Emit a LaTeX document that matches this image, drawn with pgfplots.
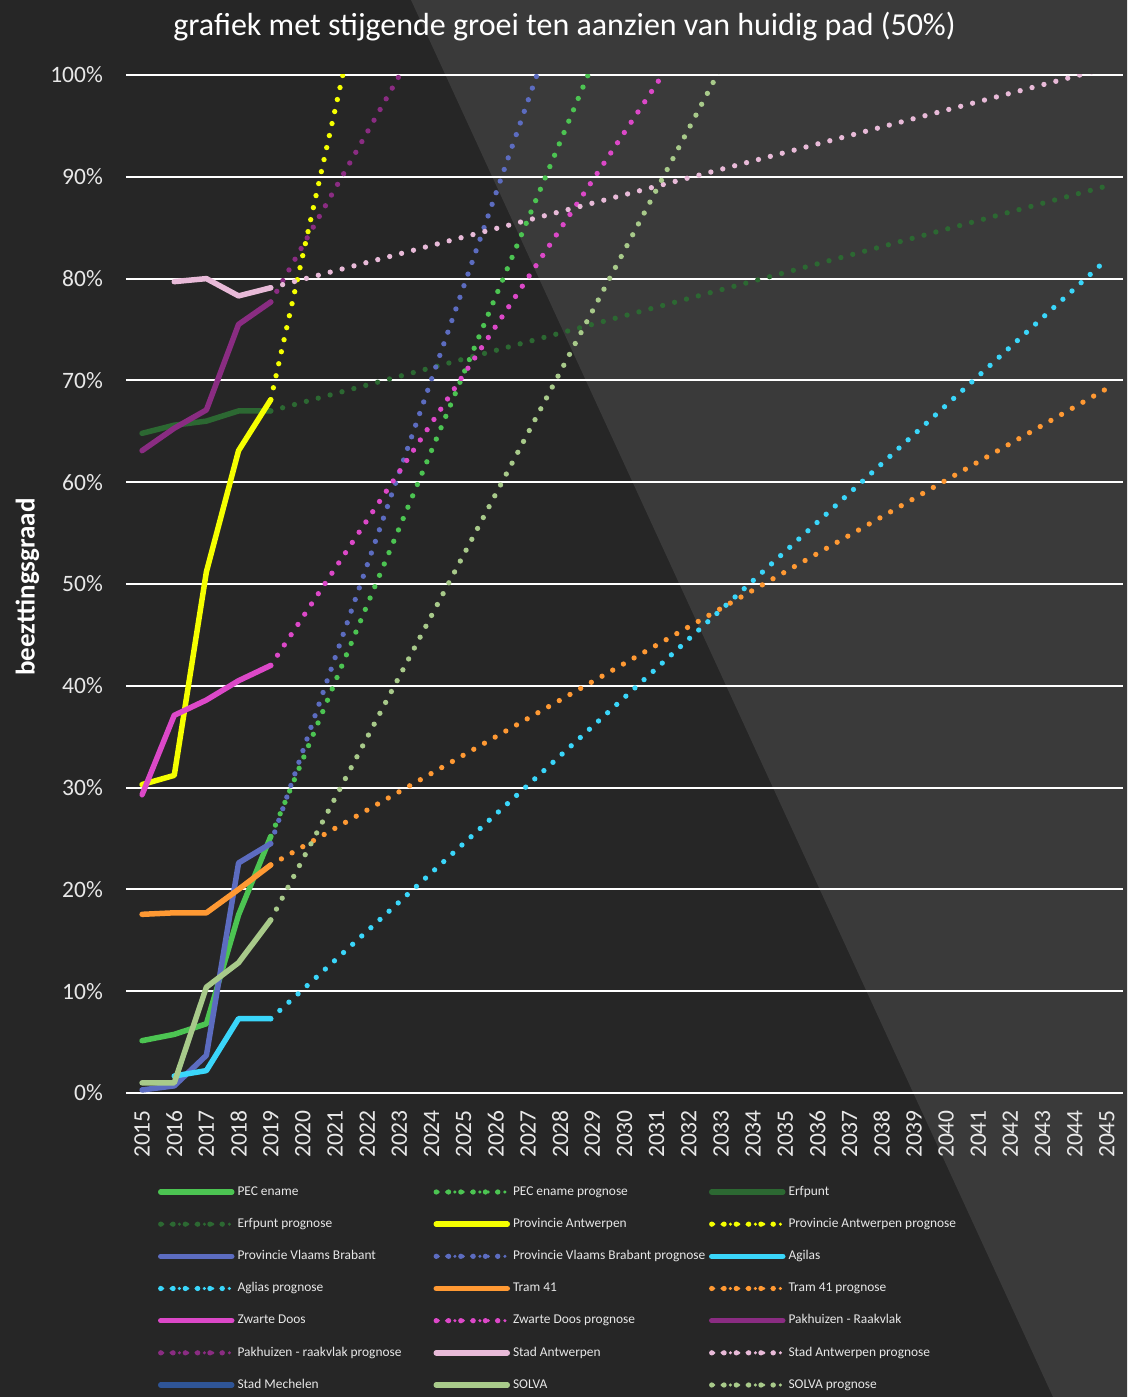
\documentclass[border=0pt]{standalone}
\usepackage{fontspec}
\setmainfont{Carlito}
\usepackage{pgfplots}
\pgfplotsset{compat=1.18}
\definecolor{bgA}{RGB}{38,38,38}
\definecolor{bgB}{RGB}{58,58,58}
\definecolor{lbl}{RGB}{232,232,232}
\definecolor{cPEC}{RGB}{76,196,82}
\definecolor{cErf}{RGB}{44,104,50}
\definecolor{cPA}{RGB}{245,255,0}
\definecolor{cPVB}{RGB}{92,108,192}
\definecolor{cAg}{RGB}{58,214,250}
\definecolor{cTram}{RGB}{255,153,51}
\definecolor{cZD}{RGB}{220,72,200}
\definecolor{cPak}{RGB}{138,44,130}
\definecolor{cSA}{RGB}{232,186,216}
\definecolor{cSM}{RGB}{47,85,151}
\definecolor{cSOL}{RGB}{168,202,138}
\pgfplotsset{
  act/.style={line width=5.5pt, line cap=round, line join=round,
    legend image code/.code={\path (0pt,0pt) -- (71pt,0pt);
      \draw[##1, line width=4pt, line cap=round, solid] (2pt,0pt) -- (63pt,0pt);}},
  prog/.style={line width=5.3pt, line cap=round, dash pattern=on 0pt off 12.3pt,
    legend image code/.code={\path (0pt,0pt) -- (71pt,0pt);
      \draw[##1, line width=3.4pt, line cap=round, dash pattern=on 0pt off 8.33pt] (2pt,0pt) -- (68.7pt,0pt);}},
}
\newcommand{\legtxt}[1]{\makebox[199pt][l]{\hspace*{3pt}#1}}
\begin{document}
\begin{tikzpicture}[x=1pt,y=1pt]
\useasboundingbox (0,0) rectangle (1127,1397);
\fill[bgA] (0,0) rectangle (1127,1397);
\fill[bgB] (411,1397) -- (1127,1397) -- (1127,0) -- (1053,0) -- cycle;
\begin{axis}[
  at={(126pt,304pt)}, anchor=south west,
  width=997pt, height=1018pt, scale only axis,
  xmin=2014.5, xmax=2045.5, ymin=0, ymax=100,
  axis line style={draw=none},
  major tick length=0pt,
  ytick={0,10,20,30,40,50,60,70,80,90,100},
  yticklabels={0\%,10\%,20\%,30\%,40\%,50\%,60\%,70\%,80\%,90\%,100\%},
  xtick={2015,2016,2017,2018,2019,2020,2021,2022,2023,2024,2025,2026,2027,2028,2029,2030,2031,2032,2033,2034,2035,2036,2037,2038,2039,2040,2041,2042,2043,2044,2045},
  xticklabels={2015,2016,2017,2018,2019,2020,2021,2022,2023,2024,2025,2026,2027,2028,2029,2030,2031,2032,2033,2034,2035,2036,2037,2038,2039,2040,2041,2042,2043,2044,2045},
  ymajorgrids, major grid style={white, line width=2pt},
  tick label style={text=lbl, font=\fontsize{23.5}{23.5}\selectfont},
  yticklabel style={anchor=east, inner sep=0pt},
  xticklabel style={rotate=90, anchor=east, inner sep=0pt},
  yticklabel shift=23pt,
  xticklabel shift=17pt,
  ylabel={\bfseries beezttingsgraad},
  ylabel style={at={(axis description cs:-0.0988,0.497)}, anchor=center, text=white, font=\fontsize{27}{27}\selectfont},
  title={grafiek met stijgende groei ten aanzien van huidig pad (50\%)},
  title style={at={(axis description cs:0.4398,1.0325)}, anchor=base, text=white, font=\fontsize{32}{32}\selectfont},
  legend columns=3,
  legend style={at={(axis description cs:0.0321,-0.0911)}, anchor=north west,
    draw=none, fill=none, inner sep=0pt, outer sep=0pt, column sep=0pt, row sep=19.67pt,
    font=\fontsize{13.4}{13.4}\selectfont,
    nodes={inner sep=0pt, text=lbl, text height=9.5pt, text depth=3pt},
    cells={anchor=west}},
]
% PEC ename
\addplot[act, cPEC] coordinates {(2015,5.14) (2016,5.76) (2017,6.8) (2018,17.5) (2019,25.2)};
\addlegendentry{\legtxt{PEC ename}}
\addplot[prog, cPEC] coordinates {(2019,25.2) (2030,108.6)};
\addlegendentry{\legtxt{PEC ename prognose}}
% Erfpunt
\addplot[act, cErf] coordinates {(2015,64.8) (2016,65.6) (2017,66.0) (2018,67.0) (2019,67.0)};
\addlegendentry{\legtxt{Erfpunt}}
\addplot[prog, cErf] coordinates {(2019,67.0) (2045,89.1)};
\addlegendentry{\legtxt{Erfpunt prognose}}
% Provincie Antwerpen
\addplot[act, cPA] coordinates {(2015,30.3) (2016,31.2) (2017,51.2) (2018,63.1) (2019,68.1)};
\addlegendentry{\legtxt{Provincie Antwerpen}}
\addplot[prog, cPA] coordinates {(2019,68.1) (2022,110.8)};
\addlegendentry{\legtxt{Provincie Antwerpen prognose}}
% Provincie Vlaams Brabant
\addplot[act, cPVB] coordinates {(2015,0.3) (2016,0.7) (2017,3.7) (2018,22.6) (2019,24.5)};
\addlegendentry{\legtxt{Provincie Vlaams Brabant}}
\addplot[prog, cPVB] coordinates {(2019,24.5) (2028,106.6)};
\addlegendentry{\legtxt{Provincie Vlaams Brabant prognose}}
% Agilas
\addplot[act, cAg] coordinates {(2016,1.67) (2017,2.2) (2018,7.3) (2019,7.3)};
\addlegendentry{\legtxt{Agilas}}
\addplot[prog, cAg] coordinates {(2019,7.3) (2045,81.9)};
\addlegendentry{\legtxt{Aglias prognose}}
% Tram 41
\addplot[act, cTram] coordinates {(2015,17.55) (2016,17.7) (2017,17.7) (2018,20.0) (2019,22.4)};
\addlegendentry{\legtxt{Tram 41}}
\addplot[prog, cTram] coordinates {(2019,22.4) (2045,69.2)};
\addlegendentry{\legtxt{Tram 41 prognose}}
% Zwarte Doos
\addplot[act, cZD] coordinates {(2015,29.3) (2016,37.1) (2017,38.6) (2018,40.5) (2019,42.0)};
\addlegendentry{\legtxt{Zwarte Doos}}
\addplot[prog, cZD] coordinates {(2019,42.0) (2032,103.9)};
\addlegendentry{\legtxt{Zwarte Doos prognose}}
% Pakhuizen
\addplot[act, cPak] coordinates {(2015,63.1) (2016,65.3) (2017,67.1) (2018,75.5) (2019,77.7)};
\addlegendentry{\legtxt{Pakhuizen - Raakvlak}}
\addplot[prog, cPak] coordinates {(2019,77.7) (2024,105.5)};
\addlegendentry{\legtxt{Pakhuizen - raakvlak prognose}}
% Stad Antwerpen
\addplot[act, cSA] coordinates {(2016,79.7) (2017,80.0) (2018,78.3) (2019,79.1)};
\addlegendentry{\legtxt{Stad Antwerpen}}
\addplot[prog, cSA] coordinates {(2019,79.1) (2045,100.7)};
\addlegendentry{\legtxt{Stad Antwerpen prognose}}
% Stad Mechelen (no visible data)
\addlegendimage{act, cSM}
\addlegendentry{\legtxt{Stad Mechelen}}
% SOLVA
\addplot[act, cSOL] coordinates {(2015,1.0) (2016,1.0) (2017,10.4) (2018,12.8) (2019,17.0)};
\addlegendentry{\legtxt{SOLVA}}
\addplot[prog, cSOL] coordinates {(2019,17.0) (2034,106.7)};
\addlegendentry{\legtxt{SOLVA prognose}}
\end{axis}
\end{tikzpicture}
\end{document}
